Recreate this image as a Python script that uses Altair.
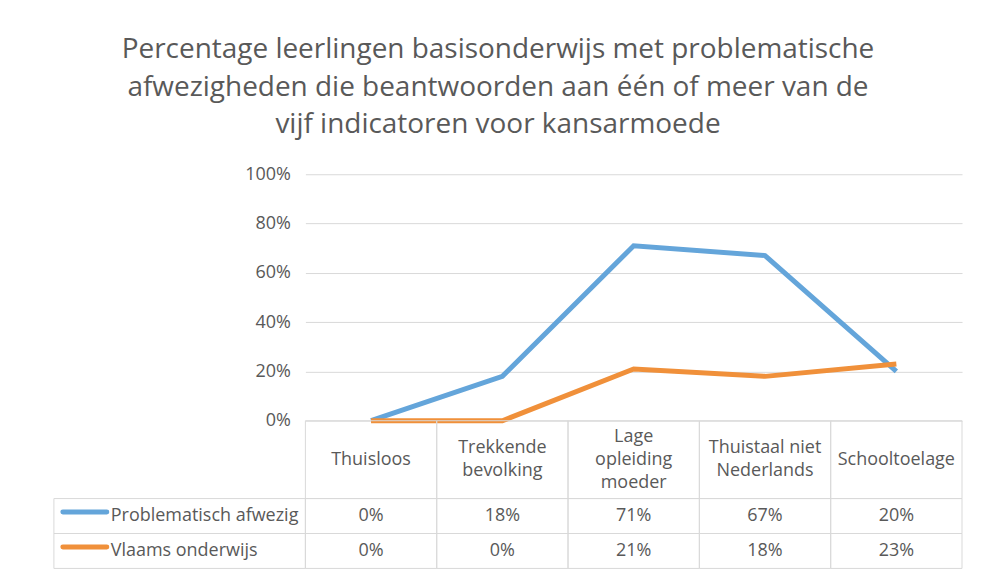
import altair as alt
import pandas as pd

categories = ["Thuisloos", "Trekkende bevolking", "Lage opleiding moeder",
              "Thuistaal niet Nederlands", "Schooltoelage"]
header_labels = ["Thuisloos", "Trekkende\nbevolking", "Lage\nopleiding\nmoeder",
                 "Thuistaal niet\nNederlands", "Schooltoelage"]
series = ["Problematisch afwezig", "Vlaams onderwijs"]
problematisch = [0, 18, 71, 67, 20]
vlaams = [0, 0, 21, 18, 23]
colors = ["#64a5da", "#f0903a"]
y_ticks = [0, 0.2, 0.4, 0.6, 0.8, 1.0]
title_lines = ["Percentage leerlingen basisonderwijs met problematische",
               "afwezigheden die beantwoorden aan één of meer van de",
               "vijf indicatoren voor kansarmoede"]

rows = []
for s, vals in zip(series, [problematisch, vlaams]):
    for c, v in zip(categories, vals):
        rows.append({"series": s, "categorie": c, "waarde": v / 100, "label": f"{v}%"})
df = pd.DataFrame(rows)
hdf = pd.DataFrame({"categorie": categories, "kop": header_labels,
                    "regels": [h.count("\n") + 1 for h in header_labels],
                    "rij": ["kop"] * len(categories)})
ldf = pd.DataFrame({"series": series})

W = 658
FONT = "Open Sans"
GRAY = "#595959"
GRID = "#d9d9d9"
FS = 18
LH = 23

xscale = alt.Scale(domain=categories, paddingInner=0, paddingOuter=0)
xenc = alt.X("categorie:N", scale=xscale, axis=None)
color = alt.Color("series:N", scale=alt.Scale(domain=series, range=colors), legend=None)

lines = alt.Chart(df).mark_line(strokeWidth=5).encode(
    x=xenc,
    y=alt.Y("waarde:Q", scale=alt.Scale(domain=[0, 1]),
            axis=alt.Axis(format="%", values=y_ticks, grid=True, gridColor=GRID,
                          domain=False, ticks=False, labelPadding=15,
                          labelFontSize=FS, labelColor=GRAY, labelFont=FONT, title=None)),
    color=color,
).properties(width=W, height=247)

hy = alt.Y("rij:N", axis=None, scale=alt.Scale(paddingInner=0, paddingOuter=0))
hbase = alt.Chart(hdf).encode(x=xenc, y=hy)
header_layers = [hbase.mark_rect(fillOpacity=0, stroke=GRID, strokeWidth=1)]
for n in (1, 2, 3):
    header_layers.append(
        hbase.transform_filter(alt.datum.regels == n)
        .mark_text(lineBreak="\n", fontSize=FS, lineHeight=LH, font=FONT, color=GRAY,
                   dy=-(n - 1) * LH / 2)
        .encode(text="kop:N"))
header = alt.layer(*header_layers).properties(width=W, height=78)

vy = alt.Y("series:N", axis=None, scale=alt.Scale(domain=series, paddingInner=0, paddingOuter=0))
vbase = alt.Chart(df).encode(x=xenc, y=vy)
lbase = alt.Chart(ldf).encode(y=vy)
values = alt.layer(
    vbase.mark_rect(fillOpacity=0, stroke=GRID, strokeWidth=1),
    vbase.mark_text(fontSize=FS, font=FONT, color=GRAY).encode(text="label:N"),
    lbase.mark_rect(fillOpacity=0, stroke=GRID, strokeWidth=1).encode(x=alt.value(-252), x2=alt.value(0)),
    lbase.mark_rule(strokeWidth=5, strokeCap="round", yOffset=-4).encode(
        x=alt.value(-243), x2=alt.value(-199), color=color),
    lbase.mark_text(fontSize=FS, font=FONT, color=GRAY, align="left").encode(
        x=alt.value(-195), text="series:N"),
).properties(width=W, height=70)

chart = alt.vconcat(lines, header, values, spacing=0, bounds="flush").properties(
    title=alt.Title(title_lines, fontSize=28, font=FONT, color=GRAY, fontWeight="normal",
                    lineHeight=37.5, anchor="middle", offset=26, dx=-10),
    padding={"left": 45, "top": 28, "right": 10, "bottom": 5},
).configure_view(stroke=None)

chart.save("out.html", embed_options={"renderer": "svg", "actions": False})
